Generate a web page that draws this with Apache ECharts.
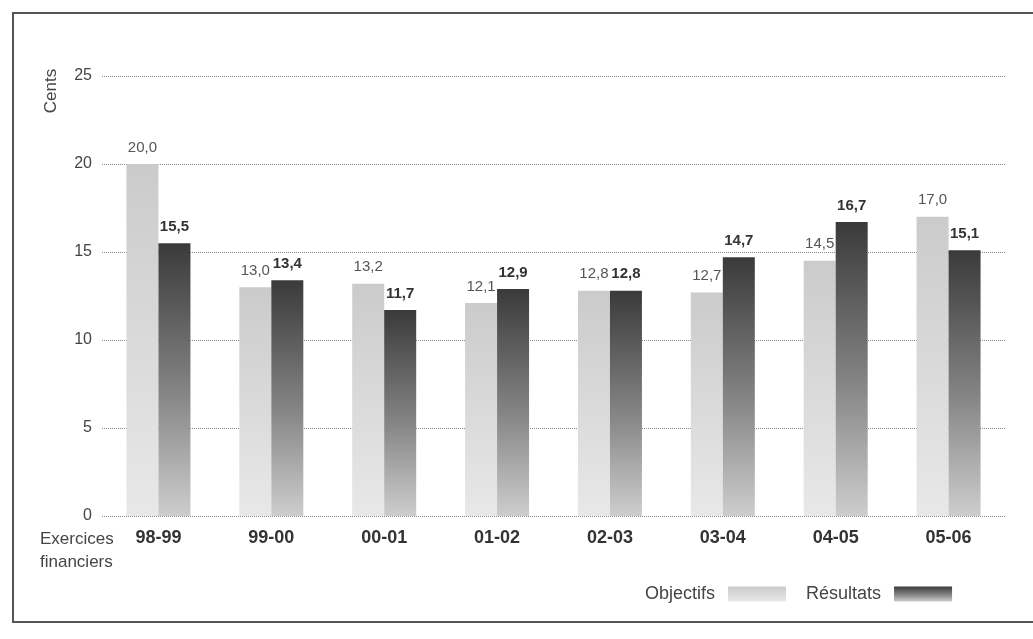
<!DOCTYPE html>
<html>
<head>
<meta charset="utf-8">
<script src="https://cdn.jsdelivr.net/npm/echarts@6/dist/echarts.min.js"></script>
<style>
  html, body { margin: 0; padding: 0; background: #fff; }
  #main { width: 1033px; height: 639px; }
</style>
</head>
<body>
<div id="main"></div>
<script>
// exercices financiers
const categories = ['98-99', '99-00', '00-01', '01-02', '02-03', '03-04', '04-05', '05-06'];
// cents
const objectifs = [20.0, 13.0, 13.2, 12.1, 12.8, 12.7, 14.5, 17.0];
const resultats = [15.5, 13.4, 11.7, 12.9, 12.8, 14.7, 16.7, 15.1];
const yTicks = [0, 5, 10, 15, 20, 25];

const font = 'Liberation Sans, Arial, sans-serif';
const fmt = p => p.value.toFixed(1).replace('.', ',');

const chart = echarts.init(document.getElementById('main'));
chart.setOption({
  backgroundColor: '#fff',
  textStyle: { fontFamily: font },
  animation: false,
  grid: { left: 102, right: 28, top: 76, bottom: 123 },
  legend: {
    left: 640,
    top: 580,
    align: 'right',
    icon: 'rect',
    itemWidth: 58,
    itemHeight: 15,
    itemGap: 20,
    textStyle: { fontSize: 18, color: '#444', fontFamily: font, padding: [0, 8, 0, 0] },
    data: ['Objectifs', 'Résultats']
  },
  xAxis: {
    type: 'category',
    data: categories,
    axisLine: { show: false },
    axisTick: { show: false },
    axisLabel: { fontSize: 18, fontWeight: 'bold', color: '#333', margin: 13 }
  },
  yAxis: {
    type: 'value',
    min: yTicks[0],
    max: yTicks[yTicks.length - 1],
    interval: 5,
    axisLine: { show: false },
    axisTick: { show: false },
    axisLabel: { fontSize: 16, color: '#444', margin: 10 },
    splitLine: { lineStyle: { type: 'dotted', color: '#8a8a8a', width: 1 } }
  },
  series: [
    {
      name: 'Objectifs',
      type: 'bar',
      data: objectifs,
      barWidth: 32,
      barGap: '0%',
      itemStyle: {
        color: new echarts.graphic.LinearGradient(0, 0, 0, 1, [
          { offset: 0, color: '#cbcbcb' },
          { offset: 1, color: '#e8e8e8' }
        ])
      },
      label: { show: true, position: 'top', formatter: fmt, fontSize: 15, color: '#555', distance: 9 }
    },
    {
      name: 'Résultats',
      type: 'bar',
      data: resultats,
      barWidth: 32,
      itemStyle: {
        color: new echarts.graphic.LinearGradient(0, 0, 0, 1, [
          { offset: 0, color: '#3a3a3a' },
          { offset: 0.55, color: '#858585' },
          { offset: 1, color: '#cdcdcd' }
        ])
      },
      label: { show: true, position: 'top', formatter: fmt, fontSize: 15, fontWeight: 'bold', color: '#333', distance: 9 }
    }
  ],
  graphic: [
    {
      type: 'rect',
      shape: { x: 13, y: 13, width: 1030, height: 609 },
      style: { fill: 'none', stroke: '#555', lineWidth: 2 },
      silent: true
    },
    {
      type: 'text',
      x: 51, y: 91,
      rotation: Math.PI / 2,
      style: { text: 'Cents', fontSize: 17, fill: '#444', fontFamily: font, align: 'center', verticalAlign: 'middle' }
    },
    {
      type: 'text',
      left: 40, top: 528,
      style: { text: 'Exercices\nfinanciers', fontSize: 17, lineHeight: 23, fill: '#444', fontFamily: font }
    }
  ]
});
</script>
</body>
</html>
